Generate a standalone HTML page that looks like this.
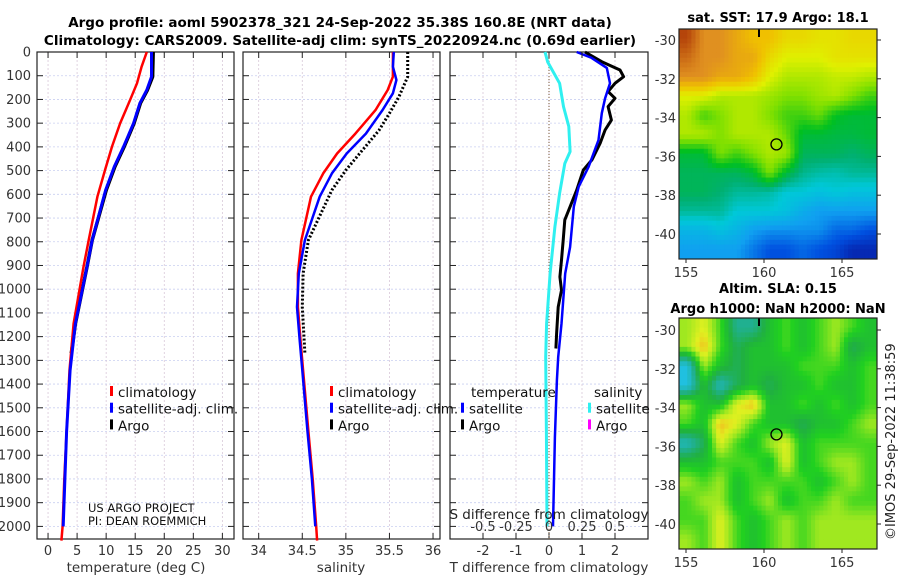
<!DOCTYPE html>
<html><head><meta charset="utf-8"><style>
body{margin:0;background:#fff}
svg{display:block;font-family:"DejaVu Sans","Liberation Sans",sans-serif}
</style></head><body>
<svg id="fig" width="900" height="580" viewBox="0 0 900 580">
<text x="340" y="27" font-size="13.5" font-weight="bold" text-anchor="middle">Argo profile: aoml 5902378_321 24-Sep-2022 35.38S 160.8E (NRT data)</text>
<text x="340" y="45" font-size="13.5" font-weight="bold" text-anchor="middle">Climatology: CARS2009. Satellite-adj clim: synTS_20220924.nc (0.69d earlier)</text>
<text x="778" y="22" font-size="13" font-weight="bold" text-anchor="middle">sat. SST: 17.9 Argo: 18.1</text>
<text x="778" y="293" font-size="13" font-weight="bold" text-anchor="middle">Altim. SLA: 0.15</text>
<text x="778" y="313" font-size="13" font-weight="bold" text-anchor="middle">Argo h1000: NaN h2000: NaN</text>
<text transform="translate(895,540) rotate(-90)" font-size="13" fill="#222">©IMOS 29-Sep-2022 11:38:59</text>
<g id="g"></g>
</svg>
<script>
// ---- data ----
const tClimD=[0,62,132,203,301,399,498,610,793,906,1145,1342,1600,1800,2000,2060];
const tClimV=[17.0,16.1,15.3,14.1,12.4,11.0,9.8,8.5,7.0,6.1,4.4,3.7,3.2,2.8,2.5,2.3];
const tSatD=[0,104,160,216,301,399,483,582,793,906,1145,1342,1600,1800,2000];
const tSatV=[17.8,17.8,17.0,15.8,14.7,13.0,11.4,9.9,7.6,6.7,4.7,3.8,3.2,2.9,2.6];
const tArgoD=[0,104,160,216,301,399,483,582,793,906,1145,1270];
const tArgoV=[18.1,18.0,17.1,15.9,14.8,13.1,11.5,10.0,7.6,6.7,4.7,4.0];
const sClimD=[0,104,160,245,344,428,512,610,793,934,1075,1216,1342,1600,1800,2000,2060];
const sClimV=[35.54,35.54,35.48,35.34,35.11,34.9,34.74,34.6,34.49,34.45,34.45,34.48,34.51,34.57,34.62,34.66,34.67];
const sSatD=[0,62,118,174,245,344,428,512,610,793,934,1075,1216,1342,1600,1800,2000];
const sSatV=[35.55,35.54,35.58,35.54,35.42,35.23,35.01,34.84,34.7,34.53,34.46,34.44,34.47,34.5,34.56,34.61,34.65];
const sArgoD=[0,104,188,259,330,414,498,582,793,934,1075,1272];
const sArgoV=[35.71,35.71,35.61,35.5,35.38,35.19,35.0,34.84,34.57,34.51,34.5,34.53];
const dTArgoD=[0,41,76,104,132,167,195,230,287,329,385,455,498,582,652,708,793,877,948,1004,1075,1187,1250];
const dTArgoV=[1.09,1.6,2.15,2.26,2.0,1.79,2.0,1.79,1.89,1.7,1.55,1.3,1.04,0.84,0.64,0.48,0.43,0.38,0.33,0.38,0.28,0.23,0.21];
const dTSatD=[0,25,67,132,195,258,371,484,568,652,822,934,1145,1286,1384,1624,2000];
const dTSatV=[0.84,1.29,1.75,1.85,1.7,1.6,1.5,1.2,0.9,0.75,0.64,0.49,0.38,0.28,0.24,0.18,0.12];
const dSSatD=[0,42,132,230,314,420,470,596,737,934,1145,1286,1600,2000];
const dSSatV=[-0.03,-0.01,0.08,0.11,0.15,0.16,0.12,0.08,0.045,0.008,-0.018,-0.025,-0.02,-0.015];
const depthTicks=[0,100,200,300,400,500,600,700,800,900,1000,1100,1200,1300,1400,1500,1600,1700,1800,1900,2000];
const tTicks=[0,5,10,15,20,25,30];
const sTicks=[34,34.5,35,35.5,36];
const sTickLabels=['34','34.5','35','35.5','36'];
const dTTicks=[-2,-1,0,1,2];
const dSTicks=[-0.5,-0.25,0,0.25,0.5];
const dSTickLabels=['-0.5','-0.25','0','0.25','0.5'];
const lonTicks=[155,160,165];
const latTicks=[-30,-32,-34,-36,-38,-40];
const argoLon=160.8, argoLat=-35.38;
const sstGrid=[
[22.5,21.5,21.5,21,20.5,20.5,20,20,19.8,19.8,20,20],
[22,21.5,21.5,21,21,20,19.5,19.5,19.5,19.8,19.8,19.8],
[21.5,21.5,21,21,20.5,19.5,19,19,19,19.2,19.2,19],
[19.5,19.5,19,19,19,18.8,18.5,18.5,18.8,19,18.5,18],
[19,18,18.5,19,19,18.5,18,18,18.3,17.5,17.3,17.3],
[19,19,18.5,19,19,19,18.3,17.3,17.3,17.2,17.2,17.3],
[17.3,17.3,18.5,18,18.5,19,18.8,17,17,17,16.8,17],
[17,17,17,17,17.3,18.5,17.3,16.6,16.4,16.3,16.5,16.5],
[17,17,16.8,16.5,16.5,16.4,16,16,15.8,16,15.8,15.8],
[16.5,16.5,16.5,16,16,16,15.8,15.3,15,15,15,15],
[15.5,15.5,15.8,15.5,15,14.8,14.8,14.8,14.8,14.3,14.3,14],
[15,15,15,15,14.5,14,14,14.3,14,13.8,13.3,13.3]];
const slaGrid=[
[0.1,0.15,0.05,-0.1,-0.1,0,0.05,0,0.05,0.1,0.05,0],
[0.1,0.2,0.05,-0.05,0,0,0.05,0,0.05,0.1,-0.05,0],
[-0.2,0.1,0,-0.05,0,0,0,0.05,0.05,0.05,0,0.05],
[-0.2,0,-0.15,-0.05,0,-0.05,0,0,0.05,0,0,0.05],
[0.1,0,0,0.15,0.2,0,0,0.05,0,0.05,0,0.05],
[0.05,0,0.2,0.15,0.05,0,0,-0.05,0,0,0.05,0.1],
[-0.15,-0.05,0.15,0.05,0,0.1,0.15,0,0.05,0.05,0.05,0.05],
[0,0,0.05,0.05,0.05,0,0.15,0,0.05,0.1,0.1,0.05],
[0.1,0.05,0.1,0,0.05,0.05,0.05,0.05,0,0.05,0.1,0.05],
[0.05,0.1,0.1,0,0.05,0.1,0,0.05,0.05,0.1,0.05,0.05],
[0.05,0.05,0.15,0.05,0,0.05,0.1,0.05,0.1,0.1,0.1,0.1],
[0.1,0.05,0.15,0.05,0,0.05,0.1,0.05,0.1,0.1,0.1,0.1]];

// ---- helpers ----
const NS='http://www.w3.org/2000/svg';
const G=document.getElementById('g');
function mk(tag,at,parent){const e=document.createElementNS(NS,tag);for(const k in at)e.setAttribute(k,at[k]);(parent||G).appendChild(e);return e;}
const TOP=52, BOT=539;
const yD=d=>TOP+d*0.2372;
function lin(d0,d1,r0,r1){return v=>r0+(v-d0)*(r1-r0)/(d1-d0);}
const panels=[
 {name:'temperature-panel',x0:37,x1:234,sx:lin(-1.9,32,37,234)},
 {name:'salinity-panel',x0:243,x1:440,sx:lin(33.82,36.08,243,440)},
 {name:'difference-panel',x0:450,x1:648,sx:lin(-3,3,450,648)}];
function panelFrame(p,xt,xl){
 const grp=mk('g',{});
 
 
 depthTicks.forEach(d=>{const y=yD(d);
  mk('line',{x1:p.x0,x2:p.x1,y1:y,y2:y,stroke:'#c9cff0','stroke-width':0.8,'stroke-dasharray':'2,2'},grp);
  mk('line',{x1:p.x0,x2:p.x0+6,y1:y,y2:y,stroke:'#222'},grp);
  mk('line',{x1:p.x1-6,x2:p.x1,y1:y,y2:y,stroke:'#222'},grp);});
 xt.forEach((v,i)=>{const x=p.sx(v);
  mk('line',{x1:x,x2:x,y1:TOP,y2:BOT,stroke:'#d8c8d8',"stroke-width":0.8,'stroke-dasharray':'2,2'},grp);
  mk('line',{x1:x,x2:x,y1:BOT,y2:BOT-6,stroke:'#222'},grp);
  mk('line',{x1:x,x2:x,y1:TOP,y2:TOP+6,stroke:'#222'},grp);
  const t=mk('text',{x:x,y:555,'font-size':13,'text-anchor':'middle',fill:'#333'},grp);t.textContent=xl[i];
  
  });
 mk('rect',{x:p.x0,y:TOP,width:p.x1-p.x0,height:BOT-TOP,fill:'none',stroke:'#222','stroke-width':1.2},grp);
 return grp;}
function line(p,D,V,col,w,dash,name,scale){
 const f=scale||(v=>v);
 const pts=D.map((d,i)=>p.sx(f(V[i])).toFixed(1)+','+yD(d).toFixed(1)).join(' ');
 const e=mk('polyline',{points:pts,fill:'none',stroke:col,'stroke-width':w,'stroke-linejoin':'round'});
 if(dash)e.setAttribute('stroke-dasharray',dash);
 
 }
function txt(x,y,s,fs,extra){const t=mk('text',Object.assign({x:x,y:y,'font-size':fs,fill:'#111'},extra||{}));t.textContent=s;return t;}

const [P1,P2,P3]=panels;
panelFrame(P1,tTicks,tTicks.map(String));
panelFrame(P2,sTicks,sTickLabels);
panelFrame(P3,dTTicks,dTTicks.map(String));
depthTicks.forEach(d=>{const t=txt(31,yD(d)+4.5,String(d),13,{'text-anchor':'end',fill:'#333'});
 
 });

line(P1,tArgoD,tArgoV,'#000',3.5,null,'argo-temperature-line');
line(P1,tClimD,tClimV,'#f00',2.5,null,'climatology-temperature-line');
line(P1,tSatD,tSatV,'#00f',3,null,'satellite-temperature-line');
line(P2,sClimD,sClimV,'#f00',2.5,null,'climatology-salinity-line');
line(P2,sSatD,sSatV,'#00f',2.5,null,'satellite-salinity-line');
line(P2,sArgoD,sArgoV,'#000',3,'2,2','argo-salinity-line');
mk('line',{x1:P3.sx(0),x2:P3.sx(0),y1:TOP,y2:BOT,stroke:'#7a5a3a','stroke-width':1,'stroke-dasharray':'1,2'});
line(P3,dSSatD,dSSatV,'#2ff0f0',3,null,'satellite-salinity-diff-line',v=>v*4);
line(P3,dTArgoD,dTArgoV,'#000',3,null,'argo-temperature-diff-line');
line(P3,dTSatD,dTSatV,'#00f',2.5,null,'satellite-temperature-diff-line');
dSTicks.forEach((v,i)=>{const x=P3.sx(v*4);mk('line',{x1:x,x2:x,y1:TOP,y2:TOP+6,stroke:'#222'});
 const t=txt(x,531,dSTickLabels[i],13,{'text-anchor':'middle',fill:'#333'});
 
 });
txt(549,519,'S difference from climatology',13.5,{'text-anchor':'middle',fill:'#222'});

txt(136,572,'temperature (deg C)',13.5,{'text-anchor':'middle',fill:'#333'});
txt(341,572,'salinity',13.5,{'text-anchor':'middle',fill:'#333'});
txt(549,572,'T difference from climatology',13.5,{'text-anchor':'middle',fill:'#333'});

function legend(x,y,items,name){
 const grp=mk('g',{});
 
 
 items.forEach((it,i)=>{const yy=y+i*16.7;
  if(it[1])mk('rect',{x:x,y:yy-10,width:3,height:10,fill:it[1]},grp);
  const t=mk('text',{x:x+it[2],y:yy+1,'font-size':13.5,fill:'#111'},grp);t.textContent=it[0];});}
legend(110,396,[['climatology','#f00',8],['satellite-adj. clim.','#00f',8],['Argo','#000',8]],'temperature-legend');
legend(330,396,[['climatology','#f00',8],['satellite-adj. clim.','#00f',8],['Argo','#000',8]],'salinity-legend');
legend(461,396,[['temperature',null,10],['satellite','#00f',8],['Argo','#000',8]],'t-diff-legend');
legend(588,396,[['salinity',null,6],['satellite','#2ff0f0',8],['Argo','#f0f',8]],'s-diff-legend');
txt(88,512,'US ARGO PROJECT',11.5,{fill:'#111'});
txt(88,525,'PI: DEAN ROEMMICH',11.5,{fill:'#111'});

// maps
function hex(h){return [0,2,4].map(i=>parseInt(h.substr(1+i,2),16));}
function mkScale(stops){const s=stops.map(x=>[x[0],hex(x[1])]);
 return v=>{if(v<=s[0][0])return 'rgb('+s[0][1].join(',')+')';
  for(let i=1;i<s.length;i++){if(v<=s[i][0]){const a=s[i-1],b=s[i],t=(v-a[0])/(b[0]-a[0]);
   return 'rgb('+a[1].map((x,k)=>Math.round(x+(b[1][k]-x)*t)).join(',')+')';}}
  return 'rgb('+s[s.length-1][1].join(',')+')';};}
const sstStops=[[13,'#0818a0'],[14,'#0050e0'],[15,'#10a0f0'],[16,'#00c8d8'],[16.8,'#00b070'],[17.5,'#00c020'],[18.5,'#80e000'],[19.5,'#e0f000'],[20.5,'#f0c000'],[21.5,'#e09020'],[23,'#a02000']];
const slaStops=[[-0.3,'#2060f0'],[-0.2,'#20c0e0'],[-0.1,'#20b090'],[-0.03,'#20b040'],[0.03,'#20d020'],[0.1,'#a0e820'],[0.15,'#e0f020'],[0.2,'#f0c020'],[0.25,'#f0a020']];
function sample(grid,u,v){// bilinear, u,v in cell coords
 const R=grid.length,C=grid[0].length;
 let x=Math.min(Math.max(u-0.5,0),C-1),y=Math.min(Math.max(v-0.5,0),R-1);
 const x0=Math.floor(x),y0=Math.floor(y),x1=Math.min(x0+1,C-1),y1=Math.min(y0+1,R-1),fx=x-x0,fy=y-y0;
 return grid[y0][x0]*(1-fx)*(1-fy)+grid[y0][x1]*fx*(1-fy)+grid[y1][x0]*(1-fx)*fy+grid[y1][x1]*fx*fy;}
function drawMap(name,grid,stops,y0,y1,latY){
 const x0=679,x1=877;
 const lonX=lin(155,165,686,842);
 const grp=mk('g',{});
 
 
 const cf=mkScale(stops);
 const R=grid.length,C=grid[0].length,sub=4;
 const cw=(x1-x0)/(C*sub),ch=(y1-y0)/(R*sub);
 for(let r=0;r<R*sub;r++)for(let c=0;c<C*sub;c++){
  const v=sample(grid,(c+0.5)/sub,(r+0.5)/sub);
  const e=mk('rect',{x:(x0+c*cw).toFixed(2),y:(y0+r*ch).toFixed(2),width:(cw+0.5).toFixed(2),height:(ch+0.5).toFixed(2),fill:cf(v)},grp);
  
  }
 mk('line',{x1:759,x2:759,y1:y0,y2:y0+8,stroke:'#000','stroke-width':2},grp);
 mk('rect',{x:x0,y:y0,width:x1-x0,height:y1-y0,fill:'none',stroke:'#222','stroke-width':1.2},grp);
 lonTicks.forEach(l=>{const x=lonX(l);mk('line',{x1:x,x2:x,y1:y1,y2:y1+4,stroke:'#222'},grp);
  const t=mk('text',{x:x,y:y1+18,'font-size':13,'text-anchor':'middle',fill:'#333'},grp);t.textContent=String(l);});
 latTicks.forEach(l=>{const y=latY(l);mk('line',{x1:x1,x2:x1+4,y1:y,y2:y,stroke:'#222'},grp);
  const t=mk('text',{x:x0-3,y:y+5,'font-size':13,'text-anchor':'end',fill:'#333'},grp);t.textContent=String(l);});
 mk('circle',{cx:lonX(argoLon),cy:latY(argoLat),r:5.5,fill:'none',stroke:'#000','stroke-width':1.3},grp);}
drawMap('sst-map',sstGrid,sstStops,29,259,lin(-30,-40,40,234));
drawMap('sla-map',slaGrid,slaStops,318,549,lin(-30,-40,330,524));
</script>
</body></html>
